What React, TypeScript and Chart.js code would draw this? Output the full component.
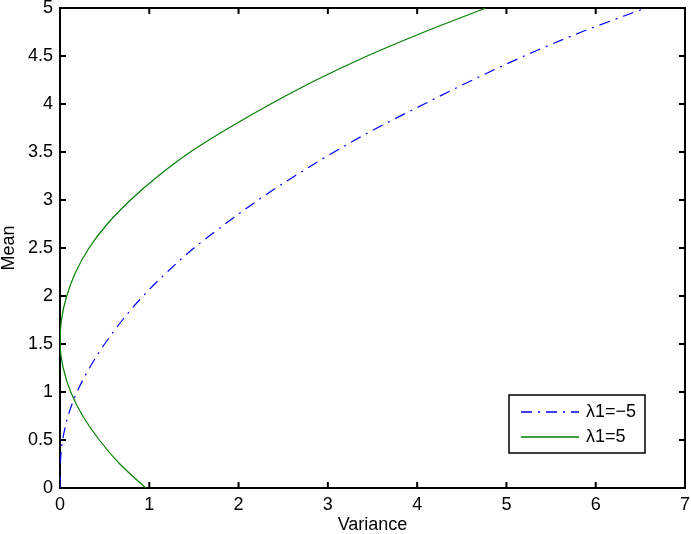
import React, { useEffect, useRef } from "react";
import { Chart, registerables } from "chart.js";

Chart.register(...registerables);

// Mean values (y axis) at which the variance of each curve was read
const meanValues = [
  0, 0.25, 0.5, 0.75, 1.0, 1.25, 1.5, 1.75, 2.0, 2.25, 2.5, 2.75, 3.0, 3.25, 3.5, 3.75, 4.0, 4.25, 4.5, 4.75, 5.0,
];
// λ1 = 5 (green, solid)
const greenVariance = [
  0.96, 0.67, 0.44, 0.255, 0.12, 0.036, 0.002, 0.016, 0.075, 0.176, 0.325, 0.53, 0.79, 1.1, 1.46, 1.89, 2.36, 2.87, 3.44, 4.08, 4.77,
];
// λ1 = -5 (blue, dash-dot)
const blueVariance = [
  0, 0.004, 0.03, 0.09, 0.19, 0.33, 0.5, 0.7, 0.93, 1.2, 1.5, 1.85, 2.22, 2.63, 3.07, 3.55, 4.08, 4.62, 5.2, 5.84, 6.56,
];

const xTicks = [0, 1, 2, 3, 4, 5, 6, 7];
const yTicks = [0, 0.5, 1, 1.5, 2, 2.5, 3, 3.5, 4, 4.5, 5];
const seriesLabels = ["λ1=−5", "λ1=5"];
const xTitle = "Variance";
const yTitle = "Mean";

const FONT = "'Liberation Sans', Arial, Helvetica, sans-serif";

const framePlugin = {
  id: "matlabFrame",
  beforeDatasetsDraw(chart: any) {
    const { ctx, chartArea: a, scales } = chart;
    const xs = scales.x;
    const ys = scales.y;
    ctx.save();
    ctx.strokeStyle = "#000";
    ctx.lineWidth = 2;
    ctx.setLineDash([]);
    ctx.strokeRect(a.left, a.top, a.right - a.left, a.bottom - a.top);
    const tl = 6;
    ctx.beginPath();
    xTicks.forEach((v) => {
      const p = xs.getPixelForValue(v);
      ctx.moveTo(p, a.bottom);
      ctx.lineTo(p, a.bottom - tl);
      ctx.moveTo(p, a.top);
      ctx.lineTo(p, a.top + tl);
    });
    yTicks.forEach((v) => {
      const p = ys.getPixelForValue(v);
      ctx.moveTo(a.left, p);
      ctx.lineTo(a.left + tl, p);
      ctx.moveTo(a.right, p);
      ctx.lineTo(a.right - tl, p);
    });
    ctx.stroke();
    ctx.restore();
  },
  afterDatasetsDraw(chart: any) {
    const { ctx, chartArea: a } = chart;
    ctx.save();
    // legend box
    const bw = 136;
    const bh = 58;
    const bx = a.right - 176;
    const by = a.bottom - 93;
    ctx.fillStyle = "#fff";
    ctx.fillRect(bx, by, bw, bh);
    ctx.strokeStyle = "#000";
    ctx.lineWidth = 1.5;
    ctx.setLineDash([]);
    ctx.strokeRect(bx, by, bw, bh);
    const rows = [by + 17, by + 42];
    chart.data.datasets.forEach((ds: any, i: number) => {
      const y = rows[i];
      ctx.beginPath();
      ctx.strokeStyle = ds.borderColor;
      ctx.lineWidth = 1.6;
      ctx.setLineDash(ds.borderDash || []);
      ctx.moveTo(bx + 12, y);
      ctx.lineTo(bx + 70, y);
      ctx.stroke();
      ctx.setLineDash([]);
      ctx.fillStyle = "#000";
      ctx.font = `18px ${FONT}`;
      ctx.textAlign = "left";
      ctx.textBaseline = "middle";
      ctx.fillText(ds.label, bx + 77, y);
    });
    ctx.restore();
  },
};

export default function App() {
  const ref = useRef<HTMLCanvasElement | null>(null);

  useEffect(() => {
    document.body.style.margin = "0";
    const canvas = ref.current;
    if (!canvas) return;
    const blueData = meanValues.map((m, i) => ({ x: blueVariance[i], y: m }));
    const greenData = meanValues.map((m, i) => ({ x: greenVariance[i], y: m }));

    const chart = new Chart(canvas, {
      type: "scatter",
      data: {
        datasets: [
          {
            label: seriesLabels[0],
            data: blueData,
            showLine: true,
            borderColor: "#0000ff",
            borderWidth: 1.2,
            borderDash: [11, 6, 2, 6],
            pointRadius: 0,
            cubicInterpolationMode: "monotone",
            fill: false,
          },
          {
            label: seriesLabels[1],
            data: greenData,
            showLine: true,
            borderColor: "#008000",
            borderWidth: 1.2,
            pointRadius: 0,
            cubicInterpolationMode: "monotone",
            fill: false,
          },
        ],
      },
      options: {
        indexAxis: "y",
        animation: false,
        responsive: false,
        maintainAspectRatio: false,
        layout: { padding: { top: 8, right: 6, left: 0, bottom: 0 } },
        plugins: {
          legend: { display: false },
          tooltip: { enabled: false },
        },
        scales: {
          x: {
            type: "linear",
            axis: "x",
            position: "bottom",
            min: 0,
            max: 7,
            afterBuildTicks: (s: any) => {
              s.ticks = xTicks.map((v) => ({ value: v }));
            },
            afterFit: (s: any) => {
              s.height = 46;
              s.paddingLeft = 0;
              s.paddingRight = 0;
            },
            grid: { display: false, drawTicks: false },
            border: { display: false },
            ticks: {
              padding: 6,
              color: "#000",
              font: { family: FONT, size: 18 },
              maxRotation: 0,
              autoSkip: false,
              callback: (v: any) => String(v),
            },
            title: {
              display: true,
              text: xTitle,
              color: "#000",
              font: { family: FONT, size: 18, lineHeight: 1 },
              padding: 0,
            },
          },
          y: {
            type: "linear",
            axis: "y",
            position: "left",
            min: 0,
            max: 5,
            afterBuildTicks: (s: any) => {
              s.ticks = yTicks.map((v) => ({ value: v }));
            },
            afterFit: (s: any) => {
              s.width = 60;
              s.paddingTop = 0;
              s.paddingBottom = 0;
            },
            grid: { display: false, drawTicks: false },
            border: { display: false },
            ticks: {
              padding: 7,
              color: "#000",
              font: { family: FONT, size: 18 },
              autoSkip: false,
              callback: (v: any) => String(v),
            },
            title: {
              display: true,
              text: yTitle,
              color: "#000",
              font: { family: FONT, size: 18, lineHeight: 1 },
              padding: 0,
            },
          },
        },
      } as any,
      plugins: [framePlugin],
    });
    return () => chart.destroy();
  }, []);

  return (
    <div style={{ position: "fixed", left: 0, top: 0, width: 691, height: 534, background: "#fff" }}>
      <canvas ref={ref} width={691} height={534} style={{ width: 691, height: 534, display: "block" }} />
    </div>
  );
}
